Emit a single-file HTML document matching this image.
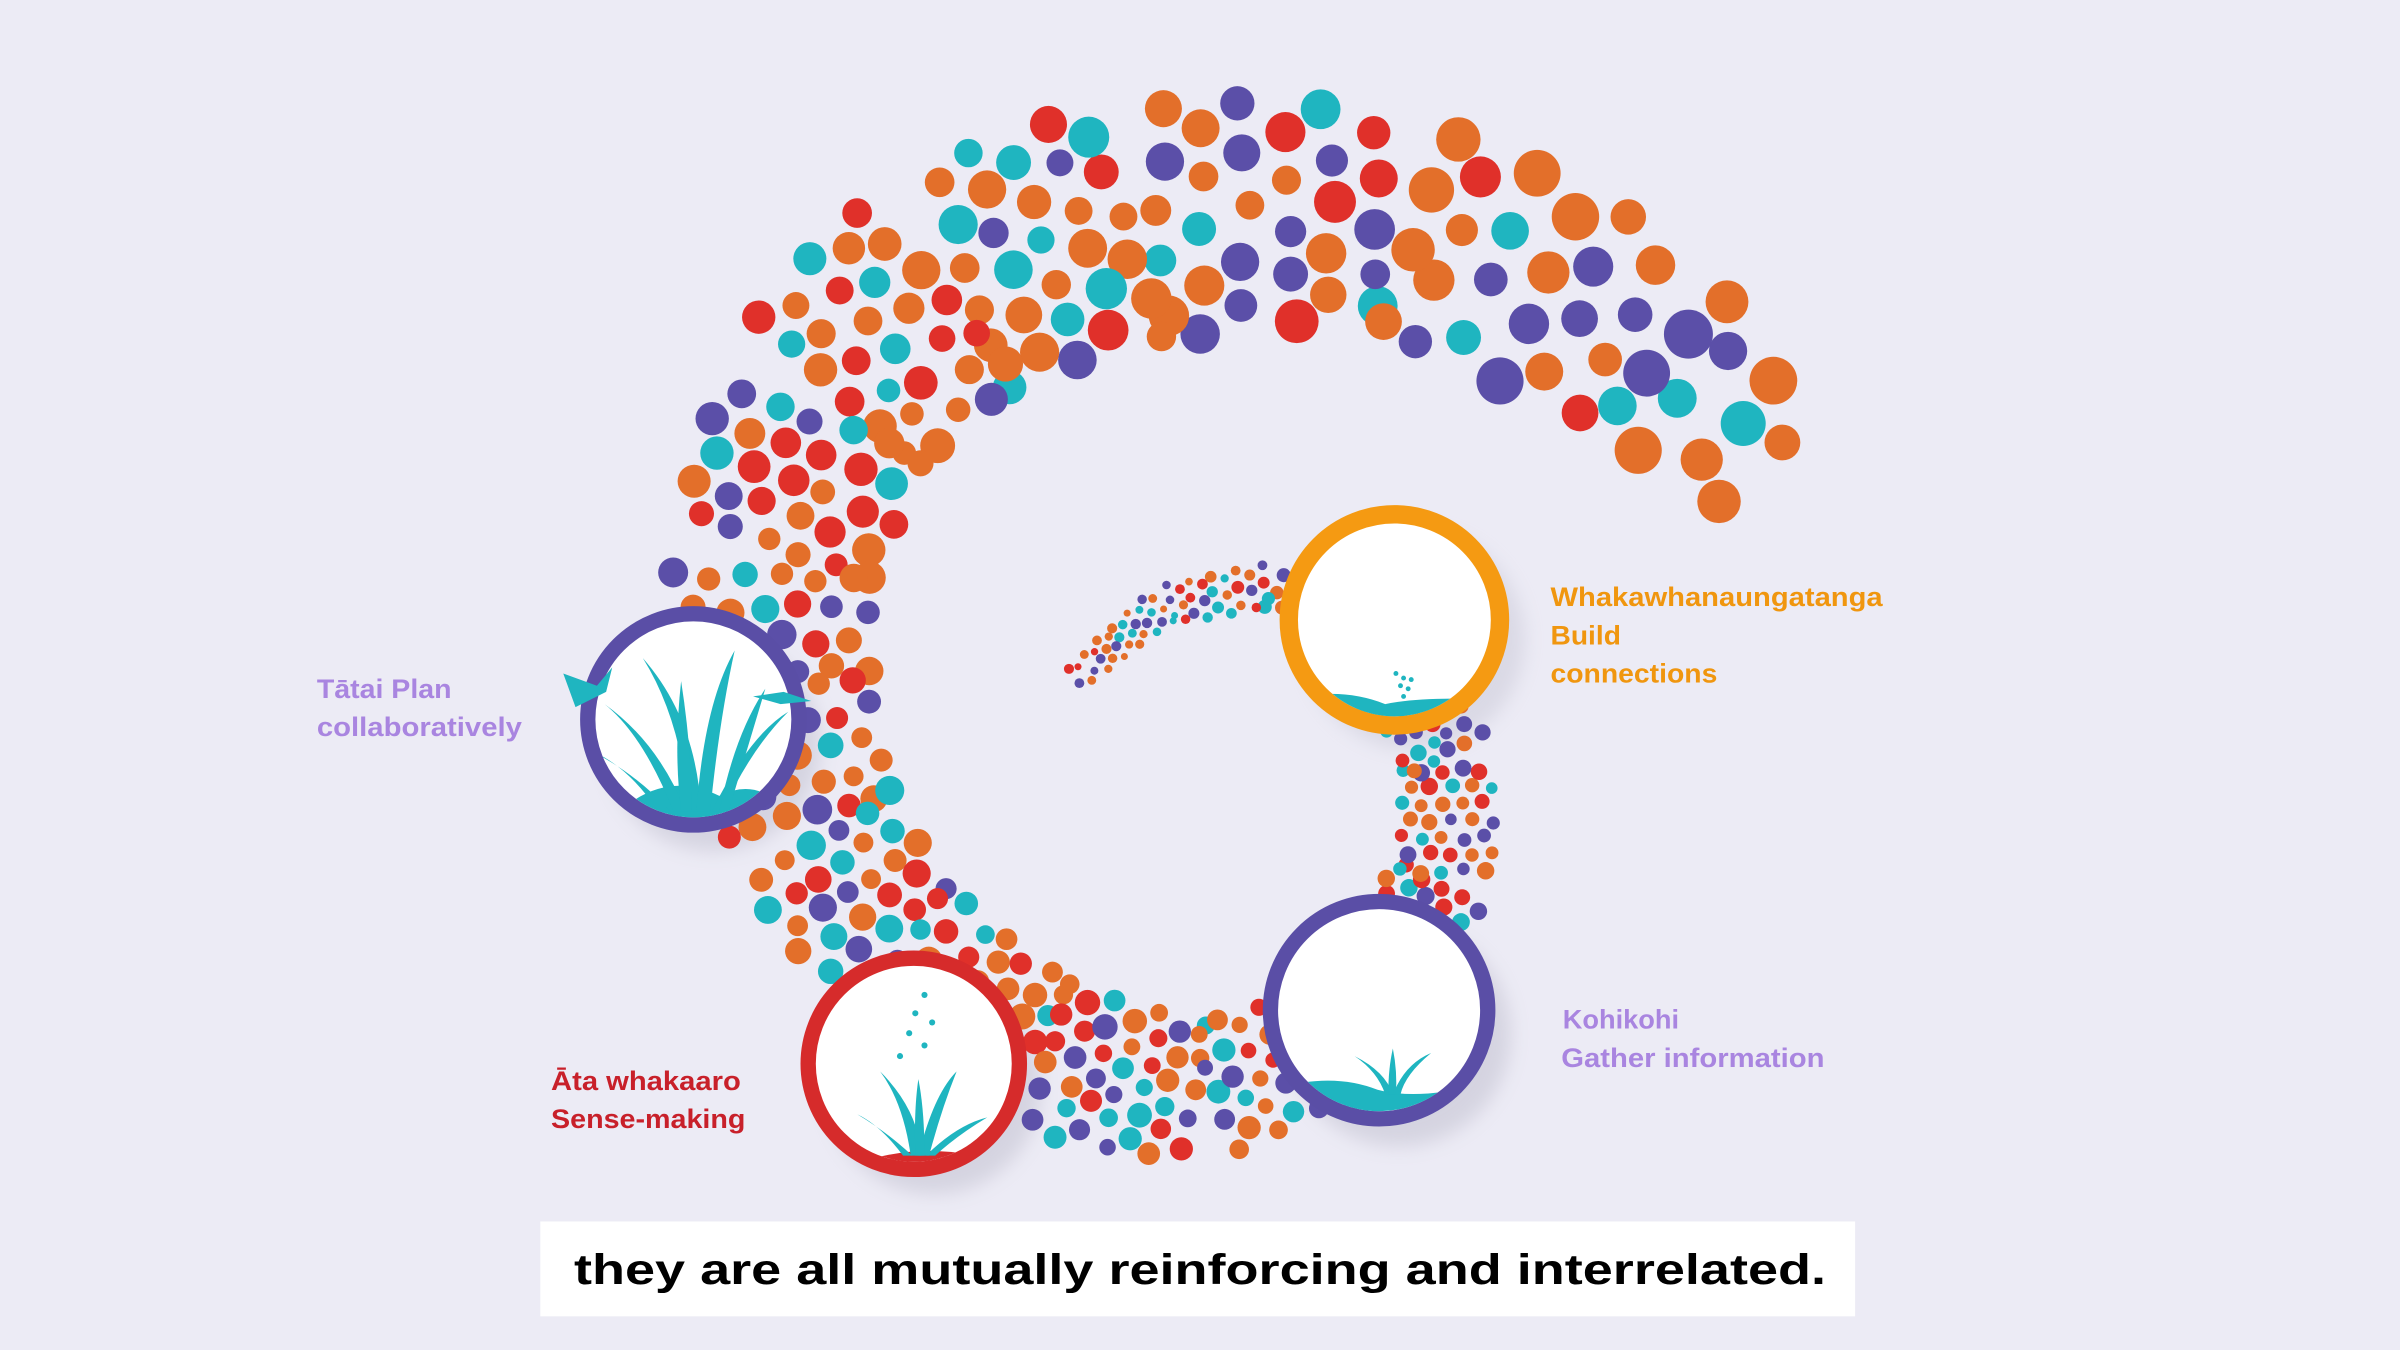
<!DOCTYPE html>
<html><head><meta charset="utf-8"><style>
html,body{margin:0;padding:0;background:#ecebf5;}
svg{display:block;}
text{font-family:"Liberation Sans",Arial,sans-serif;font-weight:bold;}
</style></head><body>
<svg id="s" width="2400" height="1350" viewBox="0 0 1568 882" xmlns="http://www.w3.org/2000/svg">
<defs>
<filter id="sh" x="-30%" y="-30%" width="160%" height="160%"><feGaussianBlur stdDeviation="6"/></filter>
<clipPath id="c1"><circle cx="453" cy="470" r="64"/></clipPath>
<clipPath id="c2"><circle cx="597" cy="695" r="64"/></clipPath>
<clipPath id="c3"><circle cx="901" cy="660" r="66"/></clipPath>
<clipPath id="c4"><circle cx="911" cy="405" r="63"/></clipPath>
</defs>
<rect width="1568" height="882" fill="#ecebf5"/>
<g id="shadows">
 <circle cx="466" cy="486" r="70" fill="#b9b8c8" filter="url(#sh)" opacity="0.45"/>
 <circle cx="610" cy="710" r="70" fill="#b9b8c8" filter="url(#sh)" opacity="0.45"/>
 <circle cx="914" cy="676" r="73" fill="#b9b8c8" filter="url(#sh)" opacity="0.45"/>
 <circle cx="924" cy="418" r="72" fill="#b9b8c8" filter="url(#sh)" opacity="0.35"/>
</g>
<g id="dots"></g>
<g id="circles">
 <circle cx="453" cy="470" r="69" fill="#fff" stroke="#5a4ea6" stroke-width="10"/>
 <g clip-path="url(#c1)" fill="#1fb5c0">
  <path d="M395 540 Q430 500 470 520 Q500 505 520 540 Z"/>
  <path d="M450 530 Q445 470 420 430 Q455 470 458 530Z"/>
  <path d="M455 530 Q460 460 480 425 Q470 470 464 530Z"/>
  <path d="M440 530 Q420 480 395 460 Q430 485 448 530Z"/>
  <path d="M465 530 Q490 480 515 465 Q490 490 472 530Z"/>
  <path d="M445 530 Q440 490 445 445 Q452 490 452 530Z"/>
  <path d="M470 530 Q480 480 500 450 Q488 490 476 530Z"/>
  <path d="M430 530 Q410 500 385 490 Q415 505 438 530Z"/>
 </g>
 <path d="M368 440 L390 448 L400 436 L396 452 L376 462Z" fill="#1fb5c0"/>
 <path d="M492 455 L512 452 L530 458 L510 460Z" fill="#1fb5c0"/>

 <circle cx="597" cy="695" r="69" fill="#fff" stroke="#d62b2b" stroke-width="10"/>
 <g clip-path="url(#c2)" fill="#1fb5c0">
  <path d="M540 770 Q590 740 660 760 L660 780 L540 780Z" fill="#d62b2b"/>
  <path d="M595 755 Q590 720 575 700 Q600 725 602 755Z"/>
  <path d="M600 755 Q610 715 625 700 Q615 725 607 755Z"/>
  <path d="M590 755 Q575 735 560 728 Q580 740 596 755Z"/>
  <path d="M605 755 Q625 735 645 730 Q625 742 611 755Z"/>
  <path d="M598 755 Q597 725 600 705 Q604 725 604 755Z"/>
  <circle cx="604" cy="650" r="2"/><circle cx="598" cy="662" r="2"/><circle cx="609" cy="668" r="2"/><circle cx="594" cy="675" r="2"/><circle cx="604" cy="683" r="2"/><circle cx="588" cy="690" r="2"/>
 </g>

 <circle cx="901" cy="660" r="71" fill="#fff" stroke="#5a4ea6" stroke-width="10"/>
 <g clip-path="url(#c3)" fill="#1fb5c0">
  <path d="M830 712 Q870 700 900 712 Q930 720 980 705 L980 740 L830 740Z"/>
  <path d="M905 715 Q900 700 885 690 Q905 700 910 715Z"/>
  <path d="M910 715 Q918 695 935 688 Q918 702 915 715Z"/>
  <path d="M907 715 Q907 698 910 685 Q913 700 912 715Z"/>
 </g>

 <circle cx="911" cy="405" r="69" fill="#fff" stroke="#f59a12" stroke-width="12"/>
 <g clip-path="url(#c4)">
  <path d="M850 455 Q880 450 905 460 Q930 455 970 457 L970 480 L850 480Z" fill="#1fb5c0"/>
  <path d="M850 458 Q880 462 900 475 L850 480Z" fill="#f59a12"/>
  <g fill="#1fb5c0"><circle cx="912" cy="440" r="1.6"/><circle cx="917" cy="443" r="1.6"/><circle cx="922" cy="444" r="1.6"/><circle cx="915" cy="448" r="1.6"/><circle cx="920" cy="450" r="1.6"/><circle cx="917" cy="455" r="1.6"/></g>
 </g>
</g>
<g font-size="17.5">
<text x="207" y="456" fill="#a985e0" textLength="88" lengthAdjust="spacingAndGlyphs">Tātai Plan</text>
<text x="207" y="481" fill="#a985e0" textLength="134" lengthAdjust="spacingAndGlyphs">collaboratively</text>
<text x="1013" y="396" fill="#f0960f" textLength="217" lengthAdjust="spacingAndGlyphs">Whakawhanaungatanga</text>
<text x="1013" y="421" fill="#f0960f" textLength="46" lengthAdjust="spacingAndGlyphs">Build</text>
<text x="1013" y="446" fill="#f0960f" textLength="109" lengthAdjust="spacingAndGlyphs">connections</text>
<text x="1021" y="672" fill="#a985e0" textLength="76" lengthAdjust="spacingAndGlyphs">Kohikohi</text>
<text x="1020" y="697" fill="#a985e0" textLength="172" lengthAdjust="spacingAndGlyphs">Gather information</text>
<text x="360" y="712" fill="#c8202a" textLength="124" lengthAdjust="spacingAndGlyphs">Āta whakaaro</text>
<text x="360" y="737" fill="#c8202a" textLength="127" lengthAdjust="spacingAndGlyphs">Sense-making</text>
</g>
<rect x="353" y="798" width="859" height="62" fill="#fff"/>
<text x="375" y="839" font-size="28" fill="#000" textLength="818" lengthAdjust="spacingAndGlyphs">they are all mutually reinforcing and interrelated.</text>
</svg>
<script>
(function(){
var P=[[1150,305,30,15],[1065,215,55,14],[900,140,60,13],[740,145,70,12],[620,185,70,11],[545,260,65,10],[505,360,60,9.5],[505,450,55,9],[530,540,50,8.5],[580,615,45,8],[680,690,45,7.5],[780,715,40,7],[880,680,30,6],[945,570,28,5],[945,495,25,5],[900,420,15,4],[830,382,12,4],[760,395,10,3],[700,445,6,3]];
var seed=12345;function rnd(){seed|=0;seed=seed+0x6D2B79F5|0;var t=Math.imul(seed^seed>>>15,1|seed);t=t+Math.imul(t^t>>>7,61|t)^t;return((t^t>>>14)>>>0)/4294967296;}
var cols=["#5b4fa8","#1fb5c0","#e0302a","#e36f2a","#e36f2a"];
var L=[0];for(var i=1;i<P.length;i++){L.push(L[i-1]+Math.hypot(P[i][0]-P[i-1][0],P[i][1]-P[i-1][1]));}
function at(s){for(var i=1;i<P.length;i++){if(s<=L[i]){var f=(s-L[i-1])/(L[i]-L[i-1]);var a=P[i-1],b=P[i];var dx=b[0]-a[0],dy=b[1]-a[1],d=Math.hypot(dx,dy);return{x:a[0]+dx*f,y:a[1]+dy*f,hw:a[2]+(b[2]-a[2])*f,r:a[3]+(b[3]-a[3])*f,nx:-dy/d,ny:dx/d};}}return null;}
var out="",s=0,k=0,tot=L[L.length-1];
while(s<tot){var p=at(s);if(!p)break;var sp=p.r*2.3;var n=Math.max(1,Math.floor(2*p.hw/sp)+1);
for(var j=0;j<n;j++){var off=-p.hw+(n>1?j*(2*p.hw)/(n-1):p.hw);off+=(k%2?sp*0.25:-sp*0.25)+(rnd()-0.5)*p.r*0.5;
var ts=(rnd()-0.5)*p.r*0.7;var tx=-p.ny,ty=p.nx;
var x=p.x+p.nx*off+tx*ts,y=p.y+p.ny*off+ty*ts;var rr=p.r*(0.75+rnd()*0.4);
out+='<circle cx="'+x.toFixed(1)+'" cy="'+y.toFixed(1)+'" r="'+rr.toFixed(1)+'" fill="'+cols[Math.floor(rnd()*cols.length)]+'"/>';}
s+=p.r*2.2;k++;}
document.getElementById("dots").innerHTML=out;
})();
</script>
</body></html>
